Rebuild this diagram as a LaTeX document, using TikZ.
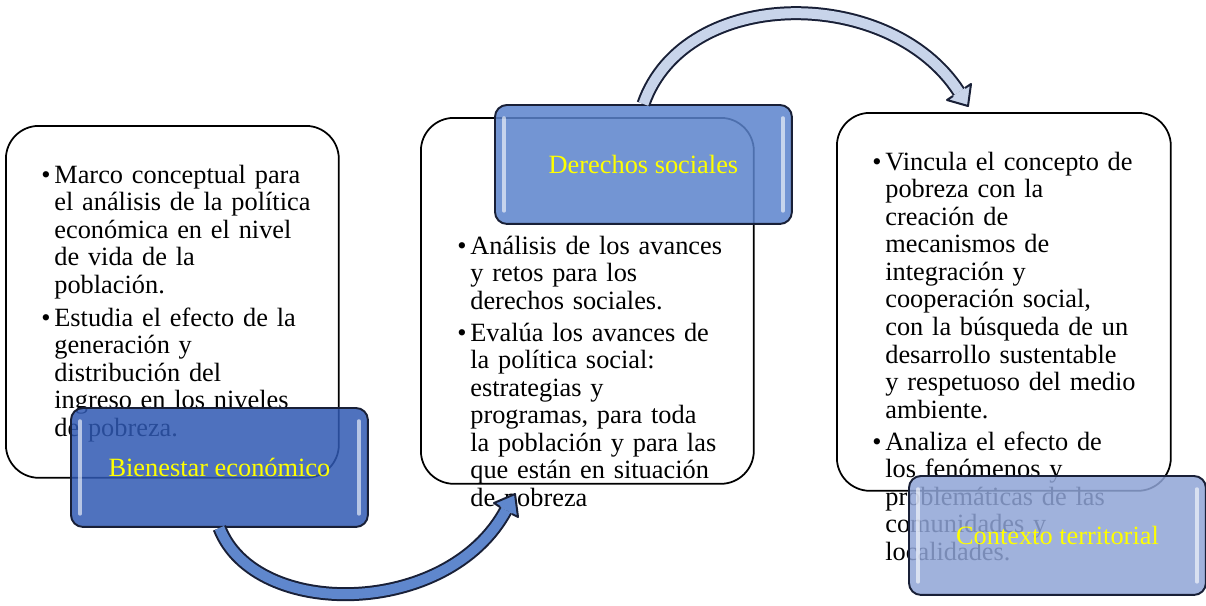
\documentclass[tikz,border=0pt]{standalone}
\usepackage{fontspec}
\setmainfont{Liberation Serif}
\definecolor{azulA}{RGB}{48,89,179}
\definecolor{azulB}{RGB}{91,131,204}
\definecolor{azulC}{RGB}{143,164,214}
\definecolor{bordeazul}{RGB}{25,32,55}
\definecolor{flechaA}{RGB}{200,212,234}
\definecolor{flechaB}{RGB}{95,135,205}
\definecolor{amarillo}{RGB}{255,255,0}
\newcommand\punto{\leavevmode\hangindent=0.26cm\hangafter=1\makebox[0.26cm][l]{\textbullet}}
\begin{document}
\begin{tikzpicture}[x=0.02cm,y=-0.02cm,
	every node/.style={black,font=\fontsize{15}{15.7}\selectfont},
	caja/.style={draw,line width=1pt,fill=white,rounded corners=0.66cm,anchor=north west,minimum width=6.66cm,inner sep=0pt},
	etiqueta/.style={draw=bordeazul,line width=1.1pt,rounded corners=0.24cm,fill opacity=0.85,text opacity=1,text=amarillo,anchor=north west,minimum width=5.94cm,minimum height=2.38cm,inner sep=0pt},
	texto/.style={anchor=base west,text width=6.2cm,align=left,inner sep=0pt},
	brillo/.style={white,line width=2pt,opacity=0.6,line cap=round},
	flecha/.style={draw=bordeazul,line width=0.04cm,double distance=0.2cm}]
	\useasboundingbox (0,0) rectangle (1206,605);
	\node[caja,minimum height=7.04cm] (c1) at (5,125) {};
	\node[caja,minimum height=7.32cm] (c2) at (420,117) {};
	\node[caja,minimum height=7.56cm,minimum width=6.68cm] (c3) at (836,112) {};
	\node[texto] (t1a) at (41,183) {\punto Marco conceptual para\newline el análisis de la política\newline económica en el nivel\newline de vida de la\newline población.\par};
	\node[texto] (t1b) at (41,326) {\punto Estudia el efecto de la\newline generación y\newline distribución del\newline ingreso en los niveles\newline de pobreza.\par};
	\node[texto] (t2a) at (457,254) {\punto Análisis de los avances\newline y retos para los\newline derechos sociales.\par};
	\node[texto] (t2b) at (457,341) {\punto Evalúa los avances de\newline la política social:\newline estrategias y\newline programas, para toda\newline la población y para las\newline que están en situación\newline de pobreza\par};
	\node[texto] (t3a) at (872,170) {\punto Vincula el concepto de\newline pobreza con la\newline creación de\newline mecanismos de\newline integración y\newline cooperación social,\newline con la búsqueda de un\newline desarrollo sustentable\newline y respetuoso del medio\newline ambiente.\par};
	\node[texto] (t3b) at (872,450) {\punto Analiza el efecto de\newline los fenómenos y\newline problemáticas de las\newline comunidades y\newline localidades.\par};
	\node[etiqueta,fill=azulA] (bien) at (70,407) {Bienestar económico};
	\node[etiqueta,fill=azulB] (der) at (494,104) {Derechos sociales};
	\node[etiqueta,fill=azulC] (ctx) at (908,475) {Contexto territorial};
	\foreach \b in {bien,der,ctx} {
		\draw[brillo] ([shift={(10,14)}]\b.north west) -- ([shift={(10,-14)}]\b.south west);
		\draw[brillo] ([shift={(-10,14)}]\b.north east) -- ([shift={(-10,-14)}]\b.south east);
	}
	\coordinate (finA) at (959,92);
	\coordinate (finB) at (506,510);
	\draw[flecha,double=flechaA] (der.north) .. controls (685,-15) and (890,-15) .. (finA);
	\fill[flechaA] (971,84) -- (968,106) -- (947,100) -- cycle;
	\draw[bordeazul,line width=0.04cm,line join=round] (965,88) -- (971,84) -- (968,106) -- (947,100) -- (953,96);
	\draw[flecha,double=flechaB] (bien.south) .. controls (255,620) and (448,618) .. (finB);
	\fill[flechaB] (518,517) -- (515,494) -- (494,503) -- cycle;
	\draw[bordeazul,line width=0.04cm,line join=round] (512,514) -- (518,517) -- (515,494) -- (494,503) -- (500,507);
\end{tikzpicture}
\end{document}
